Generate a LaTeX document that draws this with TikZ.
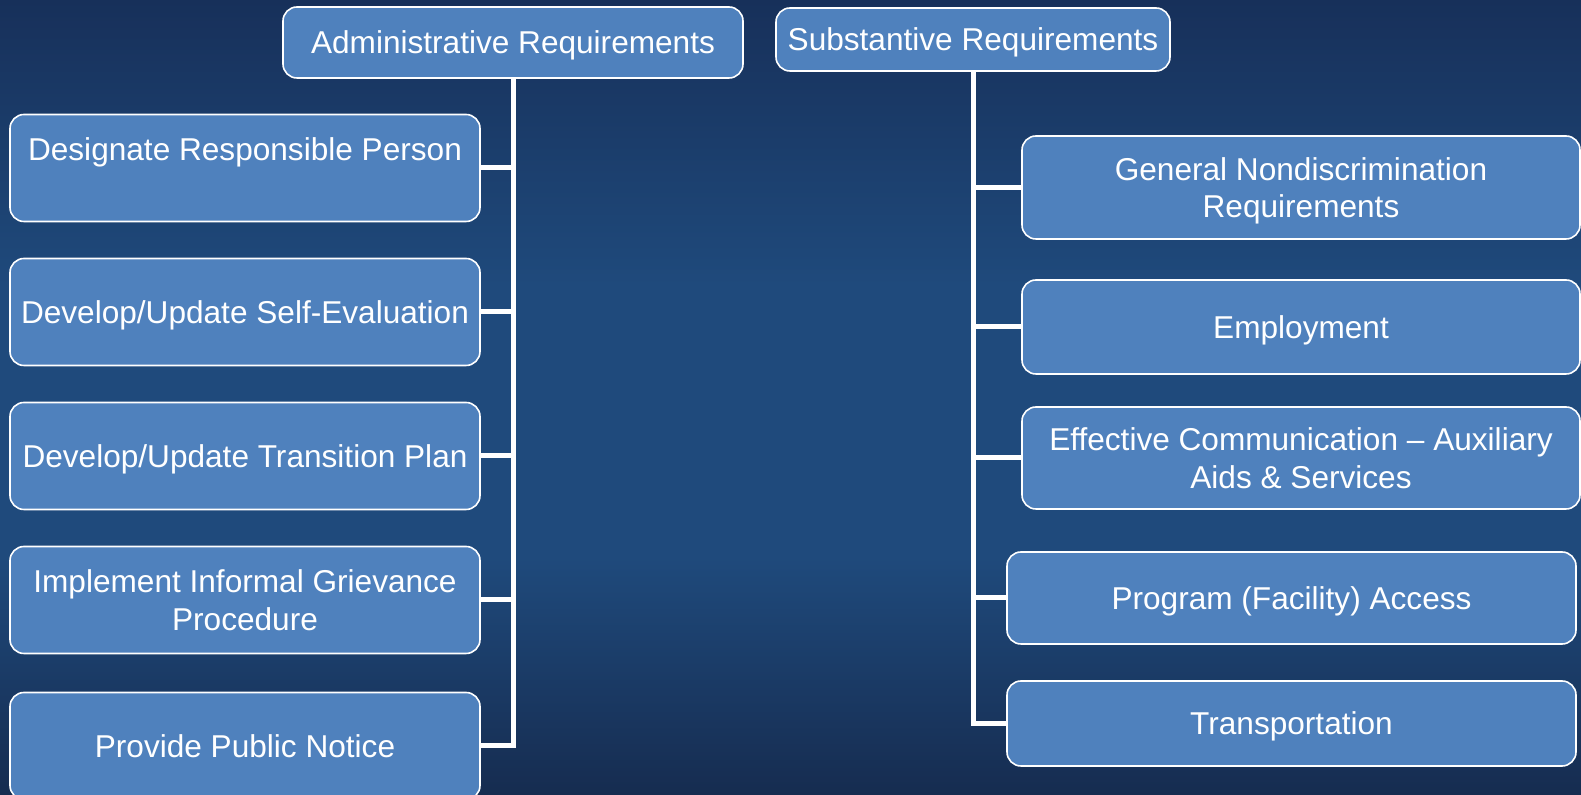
\documentclass[tikz,border=0pt]{standalone}
\usepackage{fontspec}
\setmainfont{Liberation Sans}
\usetikzlibrary{positioning,calc}
\definecolor{boxblue}{HTML}{4F81BD}
\definecolor{bgtop}{HTML}{17305A}
\definecolor{bgmid}{HTML}{1F4A7C}
\definecolor{bgbot}{HTML}{162C50}
\pgfdeclareverticalshading{bgshade}{100bp}{color(0bp)=(bgbot); color(25bp)=(bgbot); color(40bp)=(bgmid); color(57bp)=(bgmid); color(75bp)=(bgtop); color(100bp)=(bgtop)}
\tikzset{reqbox/.style={draw=white, line width=0.8pt, fill=boxblue, rounded corners=7pt, text=white, align=center, inner sep=0pt, text depth=0pt, font=\fontsize{15.8}{18.7}\selectfont}}
\tikzset{treelink/.style={draw=white, line width=2.5pt}}

\begin{document}
\begin{tikzpicture}[x=0.5pt, y=-0.5pt]
	\useasboundingbox (0,0) rectangle (1581,795);
	\shade[shading=bgshade] (0,0) rectangle (1581,795);

	% KOPF
	\node[reqbox, minimum width=230pt, minimum height=35.5pt] (adm) at (513,42.5) {Administrative Requirements};
	\node[reqbox, minimum width=197pt, minimum height=31.5pt] (sub) at (973,39.5) {Substantive Requirements};

	% ADMINISTRATIVE
	\foreach \i/\y/\txt in {1/168/{Designate Responsible Person\\\mbox{}},
	                        2/312/{Develop/Update Self-Evaluation},
	                        3/456/{Develop/Update Transition Plan},
	                        4/600/{Implement Informal Grievance\\Procedure},
	                        5/746/{Provide Public Notice}} {
		\node[reqbox, minimum width=235pt, minimum height=53.5pt] (adm\i) at (245,\y) {\txt};
		\draw[treelink] (adm.south) |- (adm\i.east);
	}

	% SUBSTANTIVE
	\node[reqbox, minimum width=279pt, minimum height=51.5pt] (sub1) at (1301,187.5) {General Nondiscrimination\\Requirements};
	\node[reqbox, minimum width=279pt, minimum height=47pt]   (sub2) at (1301,327)   {Employment};
	\node[reqbox, minimum width=279pt, minimum height=51pt]   (sub3) at (1301,458)   {Effective Communication -- Auxiliary\\Aids \& Services};
	\node[reqbox, minimum width=284.5pt, minimum height=46pt] (sub4) at (1291.5,598)   {Program (Facility) Access};
	\node[reqbox, minimum width=284.5pt, minimum height=42.5pt] (sub5) at (1291.5,723.5) {Transportation};

	\foreach \i in {1,...,5} {
		\draw[treelink] (sub.south) |- (sub\i.west);
	}
\end{tikzpicture}
\end{document}
